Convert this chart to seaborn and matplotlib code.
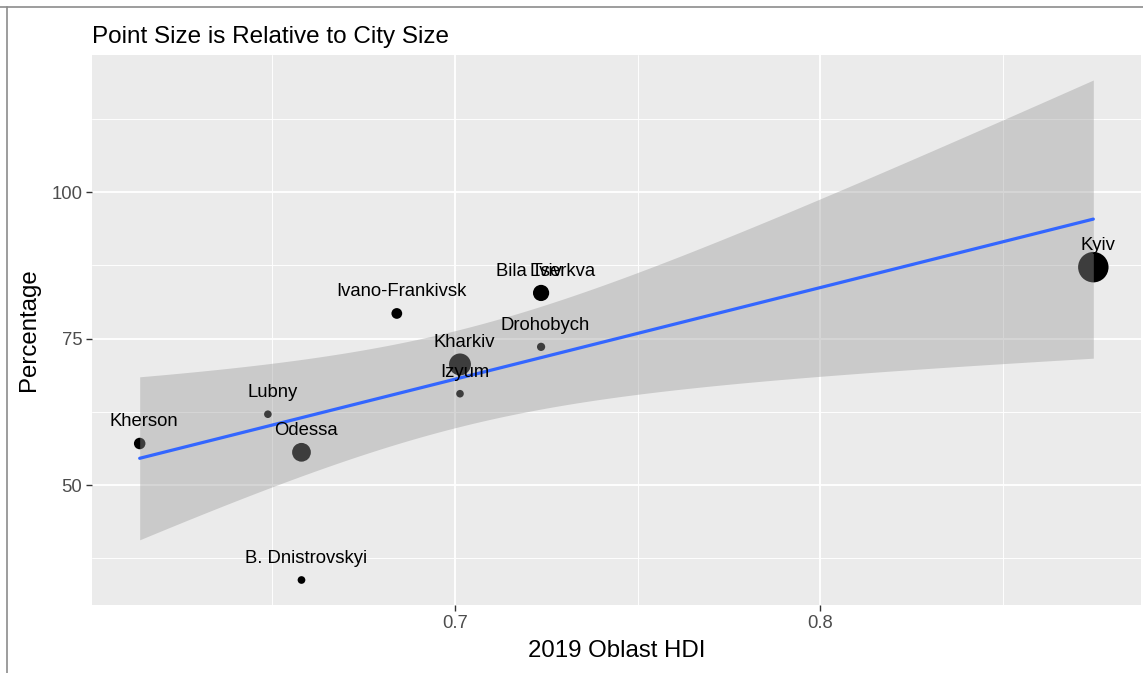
import numpy as np
import pandas as pd
import seaborn as sns
import matplotlib
matplotlib.use("Agg")
import matplotlib.pyplot as plt
from matplotlib.lines import Line2D

# ---- data ----
cities = ["Kherson", "Lubny", "Odessa", "B. Dnistrovskyi", "Ivano-Frankivsk",
          "Kharkiv", "Izyum", "Bila Tserkva", "Lviv", "Drohobych", "Kyiv"]
hdi = [0.6137, 0.6488, 0.658, 0.658, 0.6841, 0.7014, 0.7014, 0.7236, 0.7236, 0.7236, 0.8748]
percentage = [57.1, 62.1, 55.6, 33.8, 79.3, 70.6, 65.6, 82.8, 82.8, 73.6, 87.2]
population_k = [290, 45, 1010, 50, 236, 1430, 45, 208, 720, 77, 2900]

title = "Point Size is Relative to City Size"
xlabel = "2019 Oblast HDI"
ylabel = "Percentage"
xticks = [0.7, 0.8]
yticks = [50, 75, 100]

df = pd.DataFrame({"city": cities, "hdi": hdi, "pct": percentage, "pop": population_k})

# ---- style ----
sns.set_theme(style="darkgrid")
plt.rcParams["font.family"] = ["Liberation Sans", "DejaVu Sans"]

fig = plt.figure(figsize=(11.43, 6.73), dpi=100)
W, H = 1143, 673
ax = fig.add_axes([92 / W, (H - 605) / H, (1141 - 92) / W, (605 - 55) / H])
ax.set_facecolor("#EBEBEB")

# points
sns.scatterplot(data=df, x="hdi", y="pct", size="pop", sizes=(30, 480),
                color="black", linewidth=0, legend=False, ax=ax, zorder=3)

# linear fit + 95% CI (t-based, like geom_smooth(method="lm"))
x = np.asarray(hdi, float)
y = np.asarray(percentage, float)
n = len(x)
b1, b0 = np.polyfit(x, y, 1)
resid = y - (b0 + b1 * x)
s = np.sqrt(np.sum(resid ** 2) / (n - 2))
t_crit = 2.2622  # 97.5% quantile of t with n-2 = 9 df
xs = np.linspace(x.min(), x.max(), 200)
ys = b0 + b1 * xs
se = s * np.sqrt(1 / n + (xs - x.mean()) ** 2 / np.sum((x - x.mean()) ** 2))
ax.fill_between(xs, ys - t_crit * se, ys + t_crit * se, color="#999999",
                alpha=0.4, linewidth=0, zorder=4)
sns.lineplot(x=xs, y=ys, color="#3366FF", linewidth=2.3, ax=ax, zorder=5)

# labels
for c, xv, yv in zip(cities, hdi, percentage):
    ax.text(xv + 0.0012, yv + 3.7, c, ha="center", va="center", fontsize=13.3,
            color="black", zorder=6)

# axes limits (5% expansion like ggplot)
ymin = min(y.min(), (ys - t_crit * se).min())
ymax = max(y.max(), (ys + t_crit * se).max())
xr = x.max() - x.min()
yr = ymax - ymin
ax.set_xlim(x.min() - 0.05 * xr, x.max() + 0.05 * xr)
ax.set_ylim(ymin - 0.05 * yr, ymax + 0.05 * yr)

ax.set_xticks(xticks)
ax.set_xticklabels([f"{v:g}" for v in xticks])
ax.set_yticks(yticks)
ax.set_xticks([0.65, 0.75, 0.85], minor=True)
ax.set_yticks([37.5, 62.5, 87.5, 112.5], minor=True)
ax.grid(which="major", color="white", linewidth=1.3)
ax.grid(which="minor", color="white", linewidth=0.65)
ax.set_axisbelow(True)
for sp in ax.spines.values():
    sp.set_visible(False)
ax.tick_params(which="major", length=4, width=1, color="#333333", labelsize=13.3,
               labelcolor="#4D4D4D", pad=3, bottom=True, left=True)
ax.tick_params(which="minor", length=0)

ax.set_xlabel(xlabel, fontsize=17.3, color="black", labelpad=6)
ax.set_ylabel(ylabel, fontsize=17.3, color="black", labelpad=8)
ax.set_title(title, loc="left", fontsize=17.5, color="black", pad=9)

# outer frame lines from the screenshot
fig.add_artist(Line2D([0, 1], [1 - 7 / H, 1 - 7 / H], color="#8C8C8C", linewidth=1.2,
                      transform=fig.transFigure))
fig.add_artist(Line2D([7 / W, 7 / W], [0, 1 - 7 / H], color="#8C8C8C", linewidth=1.2,
                      transform=fig.transFigure))

fig.savefig("out.png", dpi=100, facecolor="white")
